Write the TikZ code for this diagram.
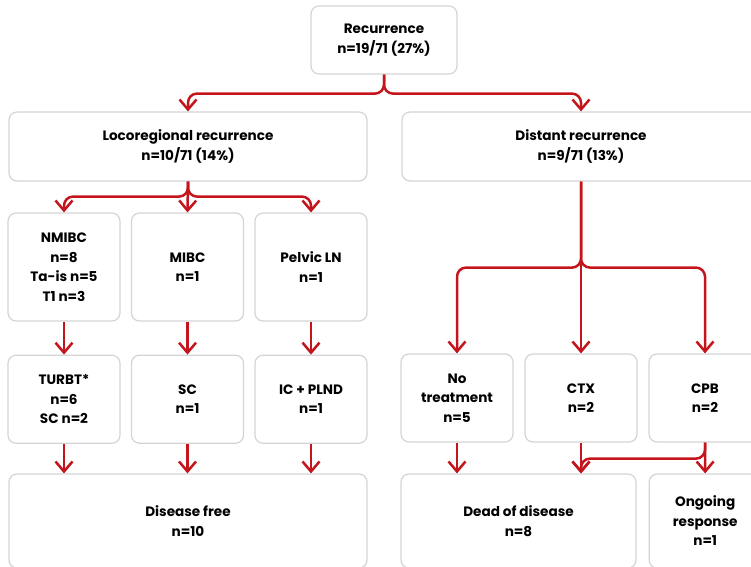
\documentclass[tikz,border=0pt]{standalone}
\usepackage{fontspec}
\setmainfont{Poppins}
\usetikzlibrary{positioning,arrows.meta}
\definecolor{flowred}{HTML}{C4151C}
\definecolor{boxgray}{HTML}{D4D4D4}
\tikzset{
  box/.style={draw=boxgray, line width=1.2pt, rounded corners=8pt, align=center,
    inner sep=0pt, font=\bfseries\fontsize{13.6}{19.5}\selectfont},
  wide/.style={box, minimum width=358pt, minimum height=69pt},
  cell/.style={box, minimum width=112pt, minimum height=88pt},
  link/.style={draw=flowred, line width=2.5pt, rounded corners=9pt,
    -{Straight Barb[length=10pt,width=17pt]}}
}
\begin{document}
\begin{tikzpicture}[x=1pt,y=-1pt]
		\clip (0,0) rectangle (751,566);

		% top levels
		\node[box, minimum width=146pt, minimum height=68pt] (rec) at (384,40)
		{Recurrence\\n=19/71 (27\%)};
		\node[wide] (loc) at (188,146.5)
		{Locoregional recurrence\\n=10/71 (14\%)};
		\node[wide] (dist) at (581,146.5)
		{Distant recurrence\\n=9/71 (13\%)};

		% locoregional branch
		\node[cell, minimum height=108pt] (nmibc) at (64,267)
		{NMIBC\\n=8\\Ta-is n=5\\T1 n=3};
		\node[cell, minimum height=108pt] (mibc) at (187.5,267)
		{MIBC\\n=1};
		\node[cell, minimum height=108pt] (pelvic) at (311,267)
		{Pelvic LN\\n=1};

		\node[cell, below=33pt of nmibc] (turbt)
		{TURBT*\\n=6\\SC n=2};
		\node[cell, below=33pt of mibc] (sc)
		{SC\\n=1};
		\node[cell, below=33pt of pelvic] (icplnd)
		{IC + PLND\\n=1};

		% distant branch
		\node[cell] (notreat) at (457,398)
		{No\\treatment\\n=5};
		\node[cell] (ctx) at (581,398)
		{CTX\\n=2};
		\node[cell] (cpb) at (705,398)
		{CPB\\n=2};

		% outcomes
		\node[box, minimum width=358pt, minimum height=94pt] (free) at (188,521)
		{Disease free\\n=10};
		\node[box, minimum width=235pt, minimum height=94pt] (dead) at (518.5,521)
		{Dead of disease\\n=8};
		\node[box, minimum width=112pt, minimum height=94pt, right=12pt of dead] (ongoing)
		{Ongoing\\response\\n=1};

		% connectors
		\path[link] (rec.south) -- ++(0,19) -| (loc.north);
		\path[link] (rec.south) -- ++(0,19) -| (dist.north);

		\path[link] (loc.south) -- ++(0,15) -| (nmibc.north);
		\path[link] (loc.south) -- (mibc.north);
		\path[link] (loc.south) -- ++(0,15) -| (pelvic.north);

		\path[link] (nmibc) -- (turbt);
		\path[link] (mibc) -- (sc);
		\path[link] (pelvic) -- (icplnd);

		\path[link] (turbt.south) -- (turbt.south |- free.north);
		\path[link] (sc.south) -- (sc.south |- free.north);
		\path[link] (icplnd.south) -- (icplnd.south |- free.north);

		\path[link] (dist.south) -- ++(0,86) -| (notreat.north);
		\path[link] (dist.south) -- (ctx.north);
		\path[link] (dist.south) -- ++(0,86) -| (cpb.north);

		\path[link] (notreat.south) -- (notreat.south |- dead.north);
		\path[link] (ctx.south) -- (ctx.south |- dead.north);
		\path[link] (cpb.south) -- ++(0,16) -| (ctx.south |- dead.north);
		\path[link] (cpb.south) -- (ongoing.north);
\end{tikzpicture}
\end{document}
